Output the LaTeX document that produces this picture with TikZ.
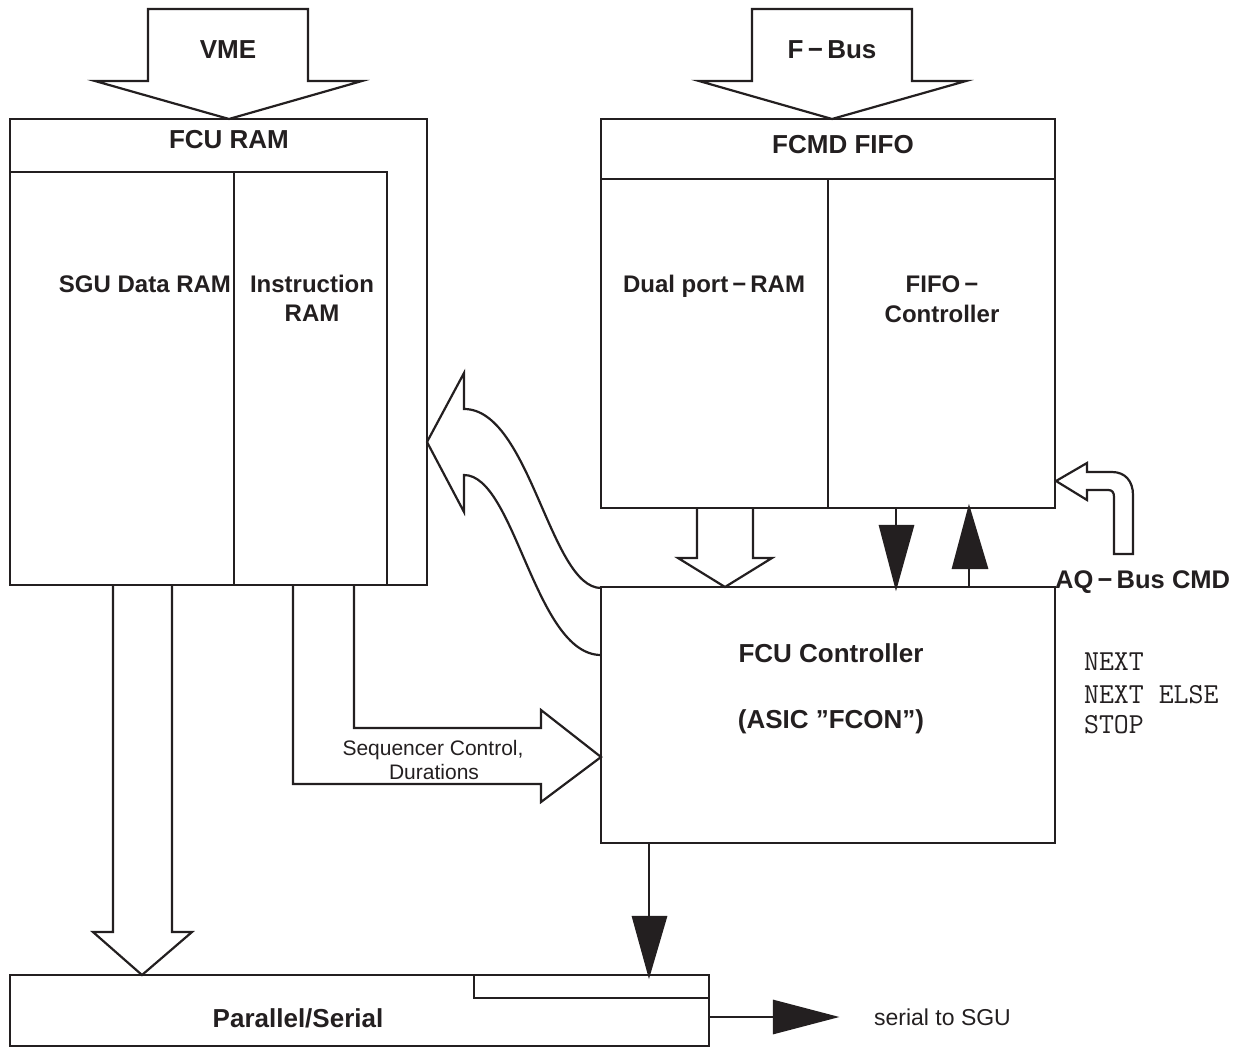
\documentclass[tikz,border=0pt]{standalone}
\usepackage{fontspec}
\setmainfont{Liberation Sans}
\definecolor{ink}{RGB}{35,31,32}
\begin{document}
\begin{tikzpicture}[x=1pt,y=-1pt,line width=2.2pt,color=ink,line join=miter,
  boxline/.style={draw,line width=2.2pt},
  blockarrow/.style={draw,fill=white,line join=miter},
  solidhead/.style={draw,fill=ink,line join=miter},
  big/.style={font=\bfseries\fontsize{26}{31}\selectfont,inner sep=0,anchor=base},
  mid/.style={font=\bfseries\fontsize{24}{29}\selectfont,inner sep=0,anchor=base},
  thin/.style={font=\fontsize{21}{24}\selectfont,inner sep=0,anchor=base},
  mono/.style={font=\ttfamily\fontsize{29}{31}\selectfont,inner sep=0,anchor=base west}]
\useasboundingbox (0,0) rectangle (1247,1048);

% ---------- input bus arrows
\draw[blockarrow] (148,9) -- (308,9) -- (308,81) -- (362,81) -- (229,119) -- (95,81) -- (148,81) -- cycle;
\node[big] (vme) at (228,59) {VME};
\draw[blockarrow] (752,9) -- (912,9) -- (912,81) -- (966,81) -- (832,119) -- (699,81) -- (752,81) -- cycle;
\node[big] (fbus) at (832,59) {F\,−\,Bus};

% ---------- FCU RAM
\draw[boxline] (10,119) rectangle (427,585);
\draw (10,172) -- (387,172) -- (387,585);
\draw (234,172) -- (234,585);
\node[big] (fcuram) at (229,149) {FCU RAM};
\node[mid] (sgu) at (145,293) {SGU Data RAM};
\node[mid] (instr1) at (312,293) {Instruction};
\node[mid] (instr2) at (312,322) {RAM};

% ---------- FCMD FIFO
\draw[boxline] (601,119) rectangle (1055,508);
\draw (601,179) -- (1055,179);
\draw (828,179) -- (828,508);
\node[big] (fcmd) at (843,154) {FCMD FIFO};
\node[mid] (dual) at (714,293) {Dual port\,−\,RAM};
\node[mid] (fifo1) at (942,293) {FIFO\,−};
\node[mid] (fifo2) at (942,323) {Controller};

% ---------- FCU Controller
\draw[boxline] (601,587) rectangle (1055,843);
\node[big] (ctrl1) at (831,662) {FCU Controller};
\node[big] (ctrl2) at (831,728) {(ASIC ”FCON”)};

% ---------- Parallel/Serial
\draw[boxline] (10,975) rectangle (709,1046);
\draw (474,975) rectangle (709,998);
\node[big] (par) at (298,1027) {Parallel/Serial};

% ---------- open arrows
\draw (697,508) -- (697,558) -- (678,558) -- (725,587) -- (772,558) -- (753,558) -- (753,508);
\draw (113,585) -- (113,932) -- (93,932) -- (142,975) -- (192,932) -- (172,932) -- (172,585);
\draw (293,585) -- (293,784) -- (541,784) -- (541,802) -- (601,757) -- (541,710) -- (541,728) -- (354,728) -- (354,585);
\node[thin] (seq1) at (433,755) {Sequencer Control,};
\node[thin] (seq2) at (434,779) {Durations};

% curved arrow to FCU RAM
\draw (601,588) .. controls (550,588) and (530,409) .. (464,409) -- (464,373) -- (427,442) -- (464,512) -- (464,475) .. controls (515,475) and (535,655) .. (601,655);

% AQ-Bus CMD arrow
\draw[blockarrow] (1114,554) -- (1133,554) -- (1133,495) .. controls (1133,481) and (1125,472) .. (1112,472) -- (1087,472) -- (1087,463) -- (1056,481) -- (1087,500) -- (1087,490) -- (1108,490) .. controls (1112,490) and (1114,492) .. (1114,497) -- cycle;
\node[font=\bfseries\fontsize{25.5}{30}\selectfont,inner sep=0,anchor=base west] (aq) at (1054,588) {AQ\,−\,Bus CMD};

\node[mono] (n1) at (1083,670) {NEXT};
\node[mono] (n2) at (1083,703) {NEXT ELSE};
\node[mono] (n3) at (1083,733) {STOP};

% ---------- solid arrows
\draw (896,508) -- (896,526);
\draw[solidhead] (880,526) -- (913,526) -- (896,587) -- cycle;
\draw (969,587) -- (969,568);
\draw[solidhead] (953,568) -- (987,568) -- (969,508) -- cycle;
\draw (649,843) -- (649,917);
\draw[solidhead] (633,917) -- (666,917) -- (649,975) -- cycle;
\draw (709,1017) -- (774,1017);
\draw[solidhead] (774,1001) -- (774,1033) -- (835,1017) -- cycle;
\node[font=\fontsize{23}{26}\selectfont,inner sep=0,anchor=base west] (ser) at (873,1025) {serial to SGU};
\end{tikzpicture}
\end{document}
